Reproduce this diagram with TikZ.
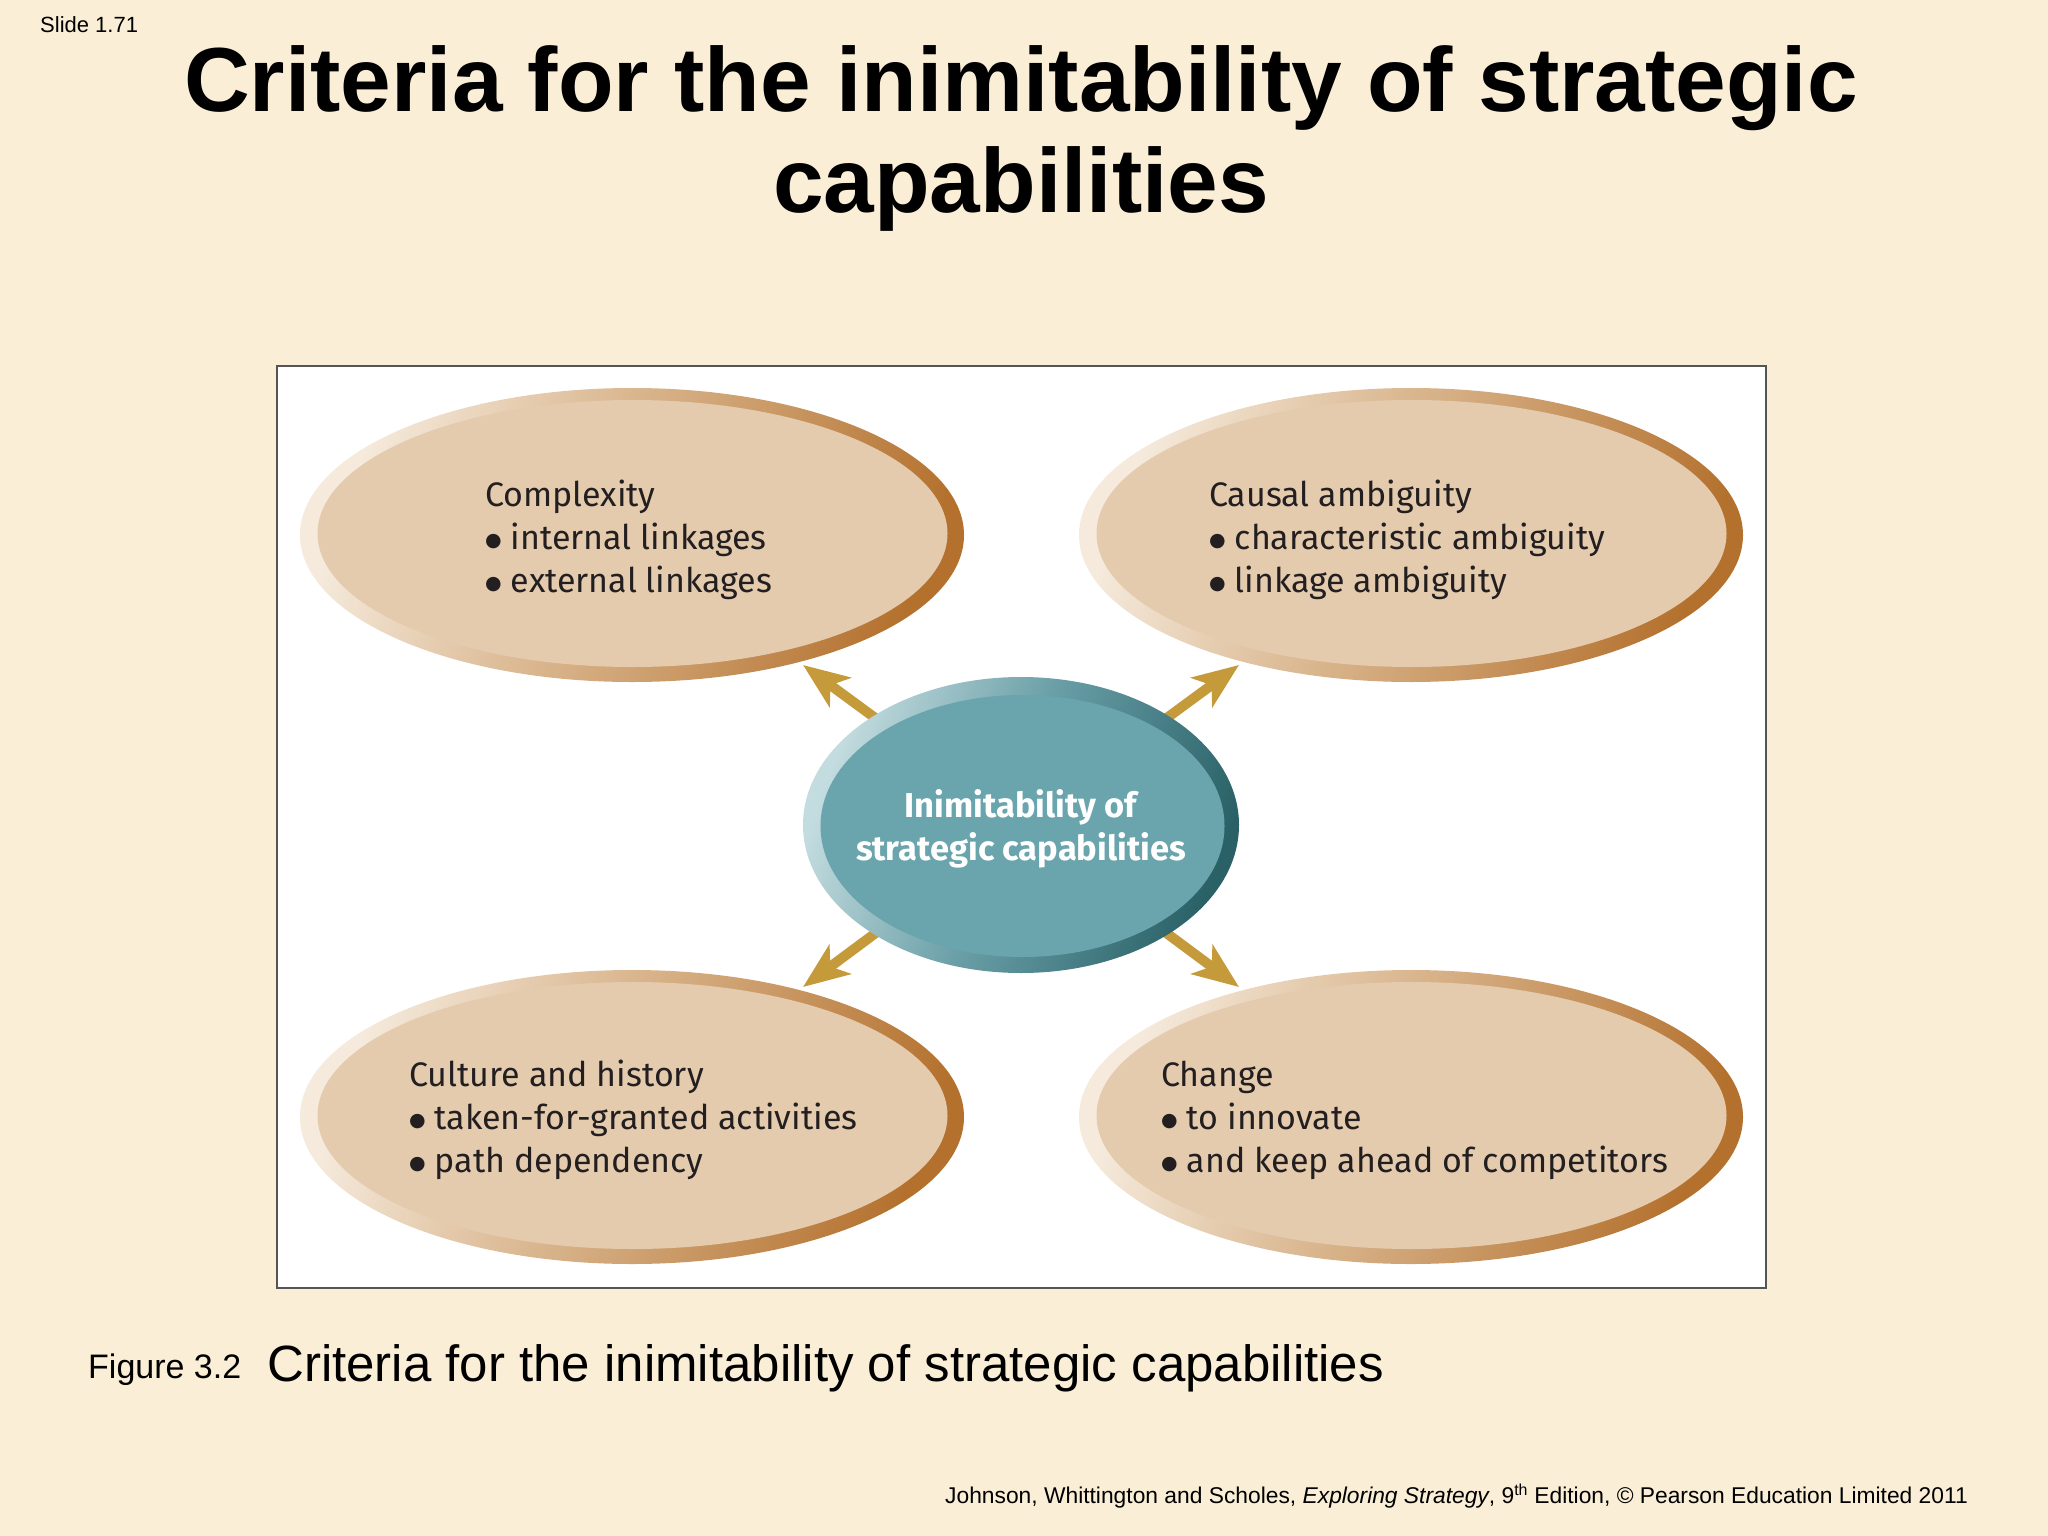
\documentclass[tikz,border=0pt]{standalone}
\usepackage{fontspec}
\setmainfont{Liberation Sans}
\newfontfamily\din{Fira Sans}
\newfontfamily\dejavu{DejaVu Sans}
\usetikzlibrary{arrows.meta,shapes.geometric}
\definecolor{slidebg}{HTML}{FAEFD6}
\definecolor{beigefill}{HTML}{E4CBAE}
\definecolor{rimlight}{HTML}{F5EADC}
\definecolor{rimmid}{HTML}{D8B38A}
\definecolor{rimdark}{HTML}{B4712E}
\definecolor{tealfill}{HTML}{6AA4AC}
\definecolor{teallight}{HTML}{C3DCDF}
\definecolor{tealmid}{HTML}{6A9FA7}
\definecolor{tealdark}{HTML}{2A6167}
\definecolor{gold}{HTML}{C59A3A}
\definecolor{textdark}{HTML}{231F20}
\definecolor{framegray}{HTML}{555555}
\pgfdeclarehorizontalshading{rimshade}{100bp}{color(0bp)=(rimlight); color(25bp)=(rimlight); color(47bp)=(rimmid); color(75bp)=(rimdark); color(100bp)=(rimdark)}
\pgfdeclarehorizontalshading{tealshade}{100bp}{color(0bp)=(teallight); color(25bp)=(teallight); color(48bp)=(tealmid); color(75bp)=(tealdark); color(100bp)=(tealdark)}
\newcommand{\bul}{{\dejavu\fontsize{19}{0}\selectfont\raisebox{2.5pt}{●}}\hspace{9pt}}
\begin{document}
\begin{tikzpicture}[x=1pt,y=-1pt,
  outerell/.style={ellipse, inner sep=0pt, draw=none, minimum width=664pt, minimum height=294pt, shade, shading=rimshade, shading angle=-20},
  centerell/.style={ellipse, inner sep=0pt, draw=none, minimum width=436pt, minimum height=296pt, shade, shading=tealshade, shading angle=-20},
  itemtext/.style={anchor=base west, align=left, inner sep=0pt, text=textdark, font=\din\fontsize{34}{42.7}\selectfont},
  centertext/.style={anchor=base, align=center, inner sep=0pt, text=white, font=\din\bfseries\fontsize{34.5}{43}\selectfont},
  arr/.style={draw=gold, line width=10pt, -{Stealth[length=46pt, width=36pt, inset=12pt]}},
  titletext/.style={anchor=base, inner sep=0pt, font=\bfseries\fontsize{91}{100}\selectfont}
]
\useasboundingbox (0,0) rectangle (2048,1536);
\fill[slidebg] (0,0) rectangle (2048,1536);

\node[anchor=base west, inner sep=0pt, font=\fontsize{22}{26}\selectfont] (slideno) at (40,33) {Slide 1.71};
\node[titletext] (title1) at (1021,112) {Criteria for the inimitability of strategic};
\node[titletext] (title2) at (1021,212) {capabilities};

\draw[framegray, line width=1.5pt, fill=white] (277,366) rectangle (1766,1288);

% outer ellipses
\node[outerell] (tl) at (632,535) {};
\fill[beigefill] (632.5,533.5) ellipse [x radius=315pt, y radius=133.5pt];
\node[outerell] (tr) at (1411,535) {};
\fill[beigefill] (1411.5,533.5) ellipse [x radius=315pt, y radius=133.5pt];
\node[outerell] (bl) at (632,1117) {};
\fill[beigefill] (632.5,1115.5) ellipse [x radius=315pt, y radius=133.5pt];
\node[outerell] (br) at (1411,1117) {};
\fill[beigefill] (1411.5,1115.5) ellipse [x radius=315pt, y radius=133.5pt];

\node[itemtext] (tltext) at (485,592) {Complexity\\\bul internal linkages\\\bul external linkages};
\node[itemtext] (trtext) at (1209,592) {Causal ambiguity\\\bul characteristic ambiguity\\\bul linkage ambiguity};
\node[itemtext] (bltext) at (409,1172) {Culture and history\\\bul taken-for-granted activities\\\bul path dependency};
\node[itemtext] (brtext) at (1161,1172) {Change\\\bul to innovate\\\bul and keep ahead of competitors};

% arrows
\coordinate (cc) at (1021,825);
\coordinate (tipTL) at (803,665);
\coordinate (tipTR) at (1239,665);
\coordinate (tipBL) at (803,987);
\coordinate (tipBR) at (1239,987);
\draw[arr] (cc) -- (tipTL);
\draw[arr] (cc) -- (tipTR);
\draw[arr] (cc) -- (tipBL);
\draw[arr] (cc) -- (tipBR);

% centre ellipse
\node[centerell] (c) at (cc) {};
\fill[tealfill] (1022.5,826) ellipse [x radius=202pt, y radius=131pt];
\node[centertext] (ctext) at (1021,860) {Inimitability of\\strategic capabilities};

% captions
\node[anchor=base west, inner sep=0pt, font=\fontsize{34}{40}\selectfont] (figno) at (88,1378) {Figure 3.2};
\node[anchor=base west, inner sep=0pt, font=\fontsize{51}{60}\selectfont] (figcap) at (267,1381) {Criteria for the inimitability of strategic capabilities};
\node[anchor=base east, inner sep=0pt, font=\fontsize{22.8}{26}\selectfont] (footer) at (1968,1503) {Johnson, Whittington and Scholes, \textit{Exploring Strategy}, 9\textsuperscript{th} Edition, © Pearson Education Limited 2011};
\end{tikzpicture}
\end{document}
